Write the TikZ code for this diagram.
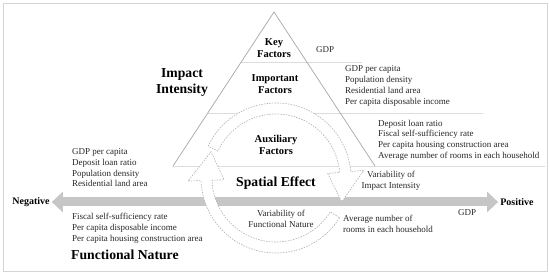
\documentclass[tikz,border=0pt]{standalone}
\usepackage{fontspec}
\setmainfont{Liberation Serif}
\usetikzlibrary{arrows.meta,calc}
\definecolor{FrameGray}{HTML}{D4D4D4}
\definecolor{EdgeGray}{HTML}{A6A6A6}
\definecolor{RuleGray}{HTML}{DCDCDC}
\definecolor{BandGray}{HTML}{C6C6C6}
\definecolor{RingGray}{HTML}{B0B0B0}
\definecolor{TextGray}{HTML}{262626}

\begin{document}
\begin{tikzpicture}[x=1pt, y=1pt,
  tier/.style={font=\fontsize{10.5}{12}\selectfont\bfseries, align=center, inner sep=0pt},
  title/.style={font=\fontsize{13.7}{16}\selectfont\bfseries, align=center, inner sep=0pt},
  pole/.style={font=\fontsize{10}{12}\selectfont\bfseries, inner sep=2pt},
  item/.style={font=\fontsize{9}{10.7}\selectfont, align=left, inner sep=0pt, anchor=west, text=TextGray},
  note/.style={font=\fontsize{9}{10.7}\selectfont, align=center, inner sep=0pt, text=TextGray},
  rule/.style={RuleGray, line width=0.6pt},
  band/.style={BandGray, line width=9pt, {Triangle[length=11pt,width=20pt]}-{Triangle[length=11pt,width=20pt]}},
  ring/.style={draw=RingGray, fill=white, dash pattern=on 1.5pt off 1.2pt, line width=0.6pt}
]
  \useasboundingbox (0,0) rectangle (550,275);
  \draw[FrameGray, line width=0.8pt] (3,4) rectangle (547,272);

  % pyramid
  \coordinate (top) at (274,263);
  \coordinate (bl) at (173,109);
  \coordinate (br) at (375,109);
  \draw[rule] ($(top)!0.325!(bl)$) -- ++(121,0);
  \draw[rule] ($(top)!0.656!(bl)$) -- ++(275,0);
  \draw[rule] (bl) -- (545,109);
  \draw[EdgeGray, line width=0.7pt] (bl) -- (top) -- (br);

  % horizontal axis
  \node[pole] (neg) at (31,73) {Negative};
  \node[pole] (pos) at (517,73) {Positive};
  \draw[band] (neg.east) -- (pos.west);

  % circular arrows
  \coordinate (hub) at (276,97);
  \draw[ring] ([shift={(-32:75pt)}]hub) arc[start angle=-32, end angle=-178, radius=75pt]
    -- ([shift={(-178:88pt)}]hub) -- ([shift={(-202:70pt)}]hub) -- ([shift={(-178:52pt)}]hub)
    -- ([shift={(-178:64pt)}]hub) arc[start angle=-178, end angle=-32, radius=64pt] -- cycle;
  \draw[ring] ([shift={(155:75pt)}]hub) arc[start angle=155, end angle=5, radius=75pt]
    -- ([shift={(5:88pt)}]hub) -- ([shift={(-20:70pt)}]hub) -- ([shift={(5:52pt)}]hub)
    -- ([shift={(5:64pt)}]hub) arc[start angle=5, end angle=155, radius=64pt] -- cycle;

  % labels
  \node[tier] (key) at (274,227) {Key\\Factors};
  \node[tier] (imp) at (275,191) {Important\\Factors};
  \node[tier] (aux) at (276,130) {Auxiliary\\Factors};
  \node[title] (intens) at (182,193) {Impact\\Intensity};
  \node[title] (spat) at (276,92) {Spatial Effect};
  \node[title, anchor=west] (func) at (71,20) {Functional Nature};

  \node[item] (keylist) at (316,225) {GDP};
  \node[item] (implist) at (345,189) {GDP per capita\\Population density\\Residential land area\\Per capita disposable income};
  \node[item] (auxlist) at (378,135) {Deposit loan ratio\\Fiscal self-sufficiency rate\\Per capita housing construction area\\Average number of rooms in each household};
  \node[item] (negup) at (72,107) {GDP per capita\\Deposit loan ratio\\Population density\\Residential land area};
  \node[item] (neglow) at (72,46.5) {Fiscal self-sufficiency rate\\Per capita disposable income\\Per capita housing construction area};
  \node[note] (varfunc) at (281,56) {Variability of\\Functional Nature};
  \node[note] (varimp) at (391,94) {Variability of\\Impact Intensity};
  \node[item] (posrooms) at (343,51) {Average number of\\rooms in each household};
  \node[item] (posgdp) at (458,62) {GDP};
\end{tikzpicture}
\end{document}
